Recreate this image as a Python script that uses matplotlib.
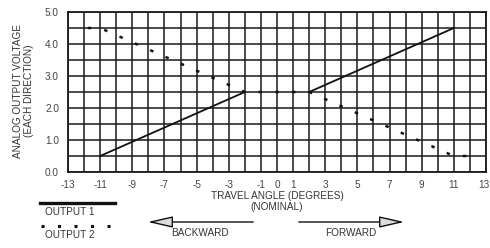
import matplotlib
matplotlib.use("Agg")
import matplotlib.pyplot as plt
from matplotlib.patches import FancyArrowPatch
from matplotlib.lines import Line2D
from matplotlib.transforms import ScaledTranslation

plt.rcParams['font.family'] = ['Liberation Sans', 'DejaVu Sans']

# Data
out1_seg1_x = [-11, -2]
out1_seg1_y = [0.5, 2.5]
out1_seg2_x = [2, 11]
out1_seg2_y = [2.5, 4.5]
out2_x = [-12, -11, -2, 2, 11, 12.5]
out2_y = [4.5, 4.5, 2.5, 2.5, 0.5, 0.5]
xtick_vals = [-13, -11, -9, -7, -5, -3, -1, 0, 1, 3, 5, 7, 9, 11, 13]
ytick_vals = [0.0, 1.0, 2.0, 3.0, 4.0, 5.0]

W, H = 490, 248
FS = 7.2
TC = '#333'
fig = plt.figure(figsize=(W / 100, H / 100), dpi=100)
ax = fig.add_axes([68 / W, (H - 172) / H, (486 - 68) / W, (172 - 12) / H])
ax.set_xlim(-13, 13)
ax.set_ylim(0, 5)

gc = '#1a1a1a'
for x in range(-13, 14):
    ax.axvline(x, color=gc, lw=1.1, zorder=1)
for i in range(11):
    ax.axhline(i * 0.5, color=gc, lw=1.1, zorder=1)
for s in ax.spines.values():
    s.set_color(gc)
    s.set_linewidth(1.3)

ax.plot(out1_seg1_x, out1_seg1_y, color='#111', lw=1.3, zorder=3)
ax.plot(out1_seg2_x, out1_seg2_y, color='#111', lw=1.3, zorder=3)
ax.plot(out2_x, out2_y, color='#111', lw=1.8, linestyle=(-1.5, (1.4, 5.3)),
        dash_capstyle='butt', zorder=3)

ax.set_xticks(xtick_vals)
ax.set_xticklabels([str(v) for v in xtick_vals])
ax.set_yticks(ytick_vals)
ax.set_yticklabels([f"{v:.1f}" for v in ytick_vals])
ax.tick_params(length=0, labelsize=FS, colors='#444', pad=6.5)
ax.tick_params(axis='x', pad=6)
last = ax.get_xticklabels()[-1]
last.set_ha('right')
last.set_transform(last.get_transform() + ScaledTranslation(4 / 100, 0, fig.dpi_scale_trans))

fig.text(277 / W, 1 - 196 / H, "TRAVEL ANGLE (DEGREES)", ha='center', va='center',
         fontsize=FS, color=TC)
fig.text(277 / W, 1 - 207 / H, "(NOMINAL)", ha='center', va='center',
         fontsize=FS, color=TC)
fig.text(18 / W, 1 - 91 / H, "ANALOG OUTPUT VOLTAGE", ha='center', va='center',
         rotation=90, fontsize=FS, color=TC)
fig.text(29 / W, 1 - 91 / H, "(EACH DIRECTION)", ha='center', va='center',
         rotation=90, fontsize=FS, color=TC)

# Legend
fig.add_artist(Line2D([40 / W, 115 / W], [1 - 203 / H, 1 - 203 / H], color='#111', lw=2.4))
fig.text(45 / W, 1 - 212 / H, "OUTPUT 1", fontsize=FS, color=TC, va='center')
fig.add_artist(Line2D([41 / W, 112 / W], [1 - 226 / H, 1 - 226 / H], color='#111', lw=2.2,
                      linestyle=(0, (1.0, 4.4)), dash_capstyle='butt'))
fig.text(45 / W, 1 - 235 / H, "OUTPUT 2", fontsize=FS, color=TC, va='center')

# Direction arrows
for x0, x1 in [(256, 145), (296, 407)]:
    arr = FancyArrowPatch((x0 / W, 1 - 222 / H), (x1 / W, 1 - 222 / H),
                          transform=fig.transFigure,
                          arrowstyle='-|>,head_length=7,head_width=1.6',
                          mutation_scale=2.2, lw=1.0, fc='#ddd', ec='#111')
    fig.add_artist(arr)
fig.text(200 / W, 1 - 233 / H, "BACKWARD", ha='center', va='center', fontsize=FS, color=TC)
fig.text(351 / W, 1 - 233 / H, "FORWARD", ha='center', va='center', fontsize=FS, color=TC)

fig.savefig("out.png", dpi=100, facecolor='white')
